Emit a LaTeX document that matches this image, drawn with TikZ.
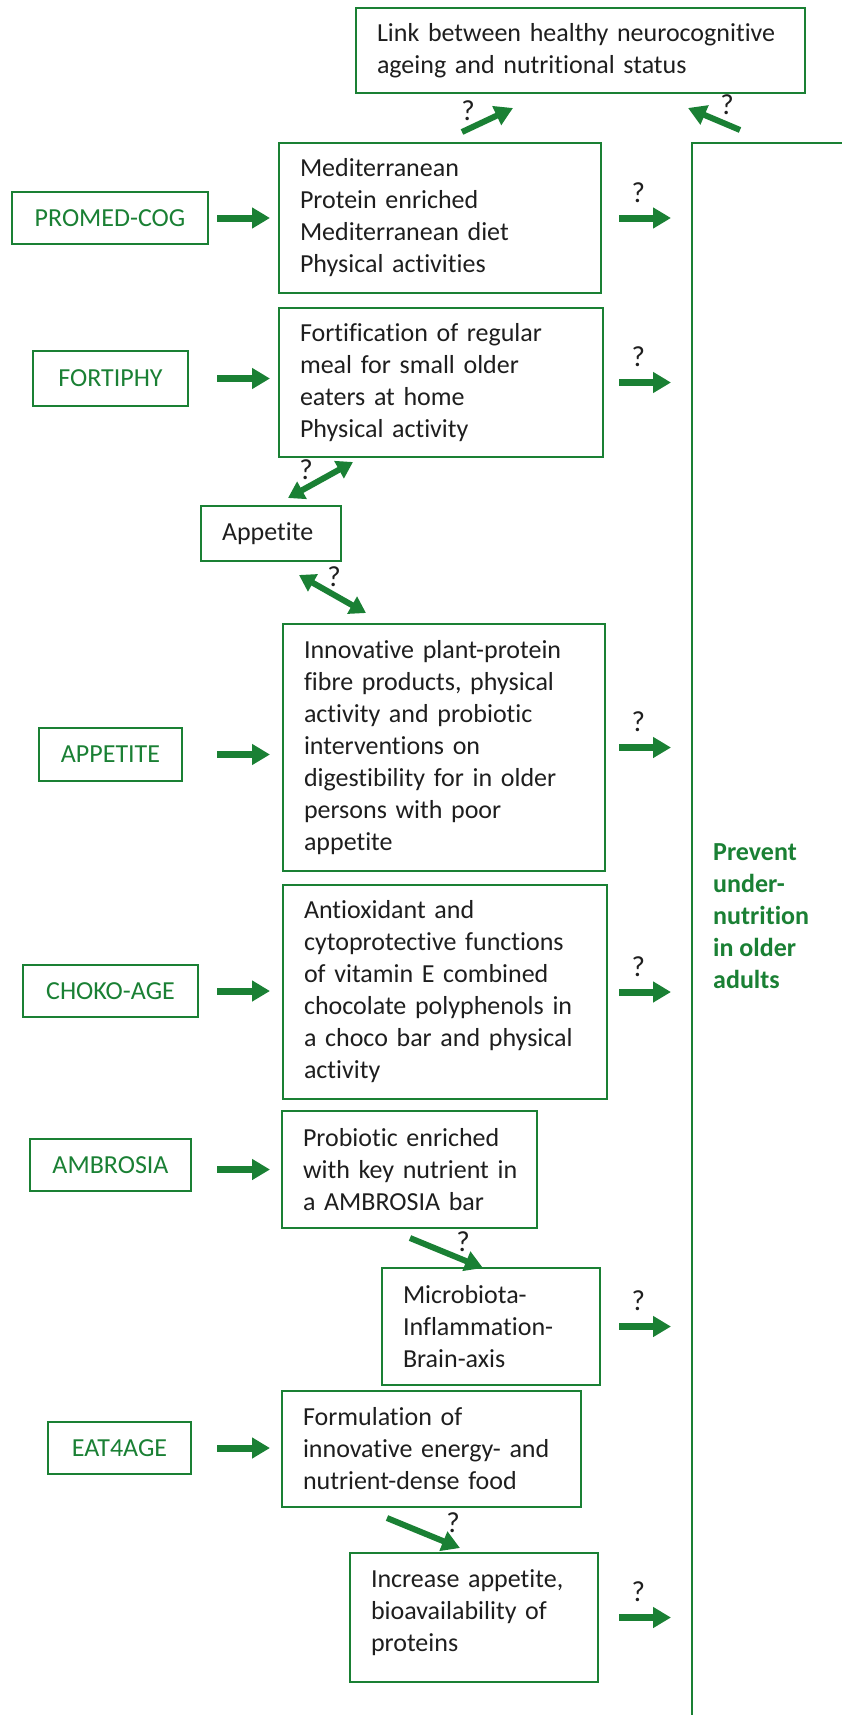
\documentclass[tikz,border=0pt]{standalone}
\usepackage{fontspec}
\setmainfont{Carlito}[Ligatures=NoCommon]
\usetikzlibrary{arrows.meta}
\definecolor{leafgreen}{RGB}{26,128,52}
\definecolor{inkgrey}{RGB}{30,30,30}
\newcommand{\diafont}{\fontsize{26}{32}\selectfont}

\begin{document}
\begin{tikzpicture}[x=1pt, y=-1pt,
        box/.style={draw=leafgreen, line width=2pt, text=inkgrey, align=left, inner xsep=21pt, font=\diafont},
        tag/.style={draw=leafgreen, line width=2pt, text=leafgreen, font=\diafont, inner sep=0pt},
        arr/.style={draw=leafgreen, line width=7pt, -{Triangle[length=18pt,width=20pt]}},
        dblarr/.style={draw=leafgreen, line width=6pt, {Triangle[length=16pt,width=19pt]}-{Triangle[length=16pt,width=19pt]}},
        qmark/.style={text=inkgrey, font=\fontsize{29}{32}\selectfont, inner sep=0pt}]
            \useasboundingbox (0,0) rectangle (842,1715);

            %%project names
            \node[tag, minimum width=196pt, minimum height=52pt] (promed) at (110,218) {PROMED-COG};
            \node[tag, minimum width=155pt, minimum height=55pt] (fortiphy) at (110.5,378.5) {FORTIPHY};
            \node[tag, minimum width=143pt, minimum height=53pt] (appetite) at (110.5,754.5) {APPETITE};
            \node[tag, minimum width=175pt, minimum height=52pt] (choko) at (110.5,991) {CHOKO-AGE};
            \node[tag, minimum width=161pt, minimum height=52pt] (ambrosia) at (110.5,1165) {AMBROSIA};
            \node[tag, minimum width=143pt, minimum height=52pt] (eatage) at (119.5,1448) {EAT4AGE};

            %%interventions
            \node[box, text width=407pt, minimum height=85pt] (link) at (580.5,50.5)
                {Link between healthy neurocognitive\\ageing and nutritional status};
            \node[box, text width=280pt, minimum height=150pt] (med) at (440,218)
                {Mediterranean\\Protein enriched\\Mediterranean diet\\Physical activities};
            \node[box, text width=282pt, minimum height=149pt] (fort) at (441,382.5)
                {Fortification of regular\\meal for small older\\eaters at home\\Physical activity};
            \node[box, text width=98pt, minimum height=55pt] (appet) at (271,533.5) {Appetite};
            \node[box, text width=280pt, minimum height=247pt] (innov) at (444,747.5)
                {Innovative plant-protein\\fibre products, physical\\activity and probiotic\\interventions on\\digestibility for in older\\persons with poor\\appetite};
            \node[box, text width=282pt, minimum height=214pt] (antiox) at (445,992)
                {Antioxidant and\\cytoprotective functions\\of vitamin E combined\\chocolate polyphenols in\\a choco bar and physical\\activity};
            \node[box, inner xsep=13pt, text width=229pt, minimum height=117pt] (probio) at (409.5,1169.5)
                {\hspace*{8pt}Probiotic enriched\\\hspace*{8pt}with key nutrient in\\\hspace*{8pt}a AMBROSIA bar};
            \node[box, text width=176pt, minimum height=117pt] (micro) at (491,1326.5)
                {Microbiota-\\Inflammation-\\Brain-axis};
            \node[box, text width=257pt, minimum height=116pt] (formul) at (431.5,1449)
                {Formulation of\\innovative energy- and\\nutrient-dense food};
            \node[box, text width=206pt, minimum height=129pt] (incr) at (474,1617.5)
                {Increase appetite,\\bioavailability of\\proteins\vspace*{10pt}};

            %%outcome
            \draw[leafgreen, line width=2pt] (842,143) -- (692,143) -- (692,1715);
            \node[anchor=west, align=left, text=leafgreen, font=\diafont\bfseries, inner sep=0pt] (goal) at (713,916)
                {Prevent\\under-\\nutrition\\in older\\adults};

            %%arrows in and out
            \coordinate (lstart) at (217,0);
            \coordinate (lend) at (270,0);
            \coordinate (rstart) at (619,0);
            \coordinate (rend) at (671,0);

            \draw[arr] (promed -| lstart) -- (promed -| lend);
            \draw[arr] (fortiphy -| lstart) -- (fortiphy -| lend);
            \draw[arr] (appetite -| lstart) -- (appetite -| lend);
            \draw[arr] (choko -| lstart) -- (choko -| lend);
            \draw[arr] (probio -| lstart) -- (probio -| lend);
            \draw[arr] (eatage -| lstart) -- (eatage -| lend);

            \draw[arr] (med -| rstart) -- node[qmark, pos=.37, above=12pt] (q1) {?} (med -| rend);
            \draw[arr] (fort -| rstart) -- node[qmark, pos=.37, above=12pt] (q2) {?} (fort -| rend);
            \draw[arr] (innov -| rstart) -- node[qmark, pos=.37, above=12pt] (q3) {?} (innov -| rend);
            \draw[arr] (antiox -| rstart) -- node[qmark, pos=.37, above=12pt] (q4) {?} (antiox -| rend);
            \draw[arr] (micro -| rstart) -- node[qmark, pos=.37, above=12pt] (q5) {?} (micro -| rend);
            \draw[arr] (incr -| rstart) -- node[qmark, pos=.37, above=12pt] (q6) {?} (incr -| rend);

            %%slanted arrows
            \coordinate (up1a) at (462,132);
            \coordinate (up1b) at (513,108);
                \draw[arr, line width=6pt] (up1a) -- (up1b);
                \node[qmark] (q7) at (468,111) {?};
            \coordinate (up2a) at (740,130);
            \coordinate (up2b) at (688,108);
                \draw[arr, line width=6pt] (up2a) -- (up2b);
                \node[qmark] (q8) at (727,105) {?};
            \coordinate (ap1a) at (288,498);
            \coordinate (ap1b) at (353,462);
                \draw[dblarr] (ap1a) -- (ap1b);
                \node[qmark] (q9) at (306,470) {?};
            \coordinate (ap2a) at (299,575);
            \coordinate (ap2b) at (366,613);
                \draw[dblarr] (ap2a) -- (ap2b);
                \node[qmark] (q10) at (334,577) {?};
            \coordinate (mb1) at (410,1238);
            \coordinate (mb2) at (483,1268);
                \draw[arr, line width=6pt] (mb1) -- (mb2);
                \node[qmark] (q11) at (463,1242) {?};
            \coordinate (fo1) at (387,1518);
            \coordinate (fo2) at (460,1548);
                \draw[arr, line width=6pt] (fo1) -- (fo2);
                \node[qmark] (q12) at (453,1523) {?};

        \end{tikzpicture}
\end{document}
